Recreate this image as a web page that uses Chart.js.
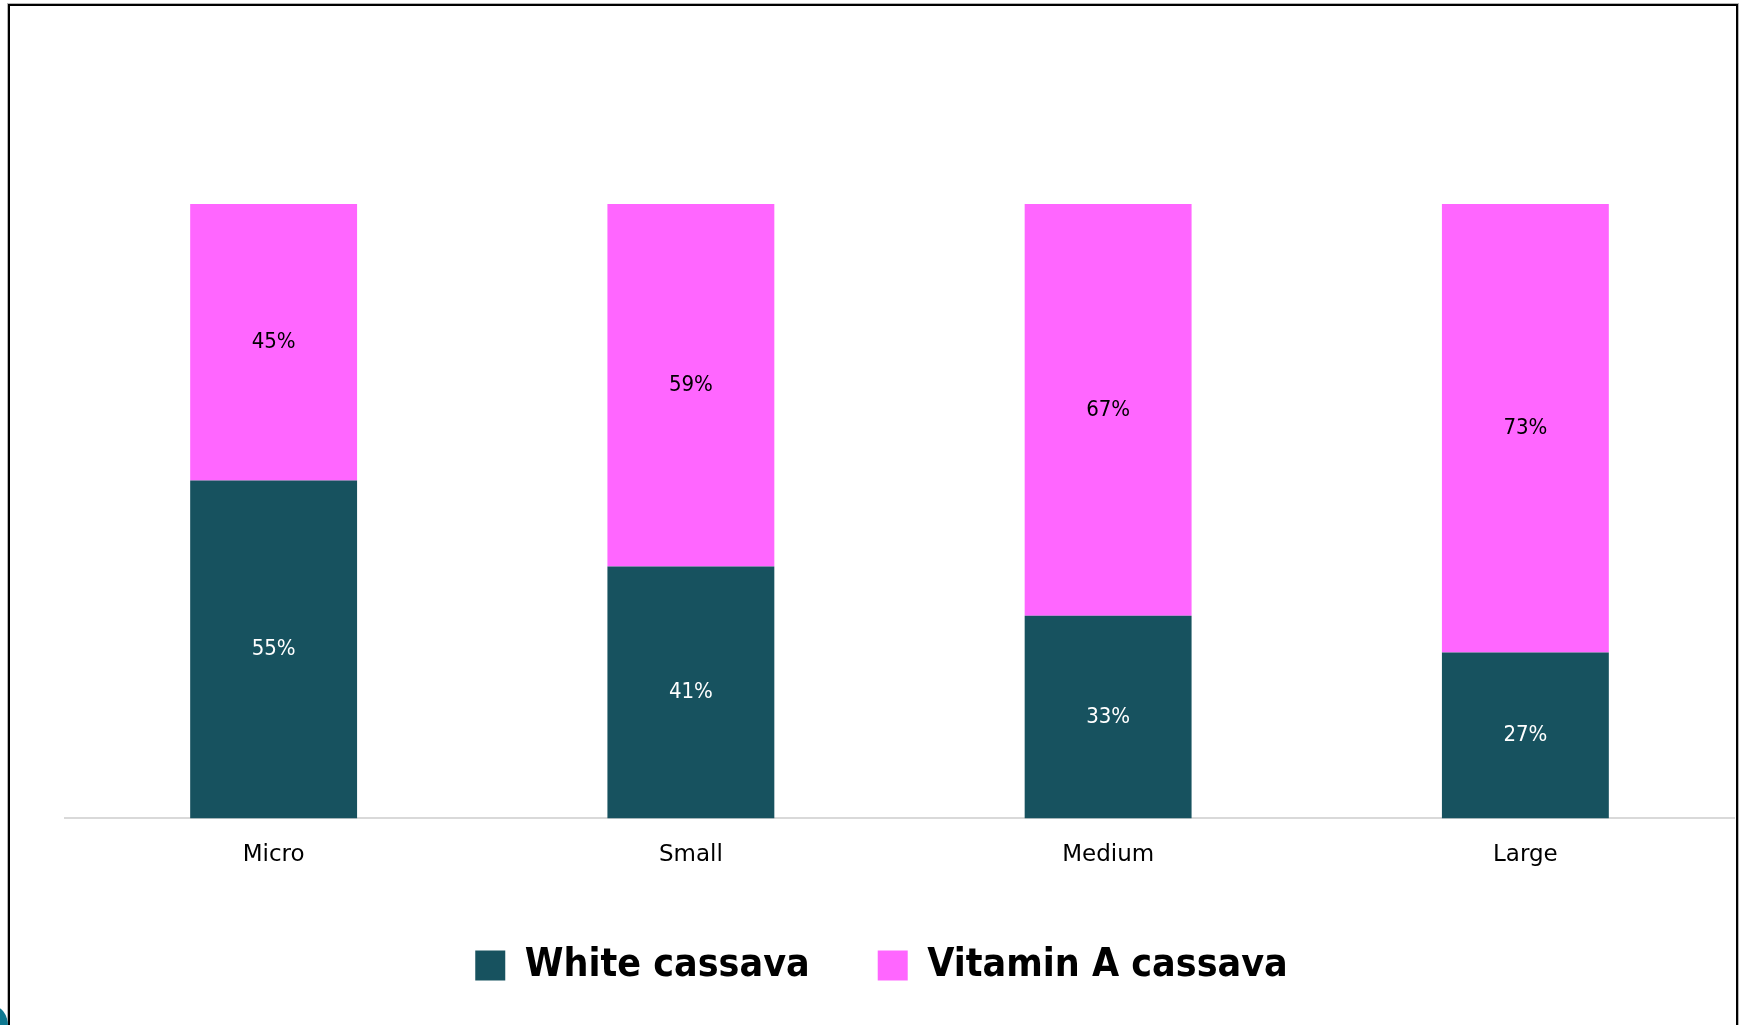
<!DOCTYPE html>
<html>
<head>
<meta charset="utf-8">
<script src="https://cdn.jsdelivr.net/npm/chart.js@4.4.1/dist/chart.umd.min.js"></script>
<style>
    html, body { margin: 0; padding: 0; background: #fff; overflow: hidden; }
    #page { position: relative; width: 1745px; height: 1025px; overflow: hidden; }
    #frame {
        position: absolute; left: 8px; top: 4px; width: 1730px; height: 1100px;
        border: 2px solid #000; box-sizing: border-box;
        box-shadow: 0 0 0 1px #b5b5b5;
    }
    #blob {
        position: absolute; left: -22px; top: 1006px; width: 30px; height: 40px;
        border-radius: 50%; background: #0e7890;
    }
    #wrap { position: absolute; left: 0; top: 0; width: 1745px; height: 1025px; }
</style>
</head>
<body>
<div id="page">
    <div id="frame"></div>
    <div id="blob"></div>
    <div id="wrap"><canvas id="chart"></canvas></div>
</div>
<script>
const categories = ['Micro', 'Small', 'Medium', 'Large'];
const whiteCassava = [55, 41, 33, 27];
const vitaminACassava = [45, 59, 67, 73];
const seriesNames = ['White cassava', 'Vitamin A cassava'];

const TEAL = '#17525f';
const PINK = '#ff66ff';

// draws the % value in the middle of every stacked segment
const segmentLabels = {
    id: 'segmentLabels',
    afterDatasetsDraw(chart) {
        const ctx = chart.ctx;
        ctx.save();
        ctx.font = "22px 'DejaVu Sans Condensed'";
        ctx.textAlign = 'center';
        ctx.textBaseline = 'middle';
        chart.data.datasets.forEach((ds, di) => {
            const meta = chart.getDatasetMeta(di);
            meta.data.forEach((bar, i) => {
                const p = bar.getCenterPoint();
                ctx.fillStyle = di === 0 ? '#ffffff' : '#000000';
                ctx.fillText(ds.data[i] + '%', p.x, p.y);
            });
        });
        ctx.restore();
    }
};

Chart.defaults.font.family = "'DejaVu Sans', sans-serif";
Chart.defaults.color = '#000';

new Chart(document.getElementById('chart'), {
    type: 'bar',
    data: {
        labels: categories,
        datasets: [
            { label: seriesNames[0], data: whiteCassava, backgroundColor: TEAL },
            { label: seriesNames[1], data: vitaminACassava, backgroundColor: PINK }
        ]
    },
    options: {
        responsive: true,
        maintainAspectRatio: false,
        animation: false,
        layout: { padding: { left: 29, right: 11, top: 204, bottom: 30 } },
        datasets: { bar: { categoryPercentage: 1, barPercentage: 0.4 } },
        plugins: {
            legend: {
                position: 'bottom',
                labels: {
                    boxWidth: 30,
                    boxHeight: 30,
                    padding: 68,
                    color: '#000',
                    font: { family: "'DejaVu Sans Condensed'", size: 39, weight: 'bold' }
                }
            },
            tooltip: { enabled: false }
        },
        scales: {
            x: {
                stacked: true,
                grid: { display: false, drawTicks: false },
                border: { display: true, color: '#d9d9d9', width: 2 },
                ticks: { padding: 23, color: '#000', font: { size: 23 } },
                afterFit: s => { s.height -= 14; }
            },
            y: {
                stacked: true,
                min: 0,
                max: 100,
                grid: { display: false, drawTicks: false },
                border: { display: false },
                ticks: { display: false },
                afterFit: s => { s.width = 36; }
            }
        }
    },
    plugins: [segmentLabels]
});
</script>
</body>
</html>
